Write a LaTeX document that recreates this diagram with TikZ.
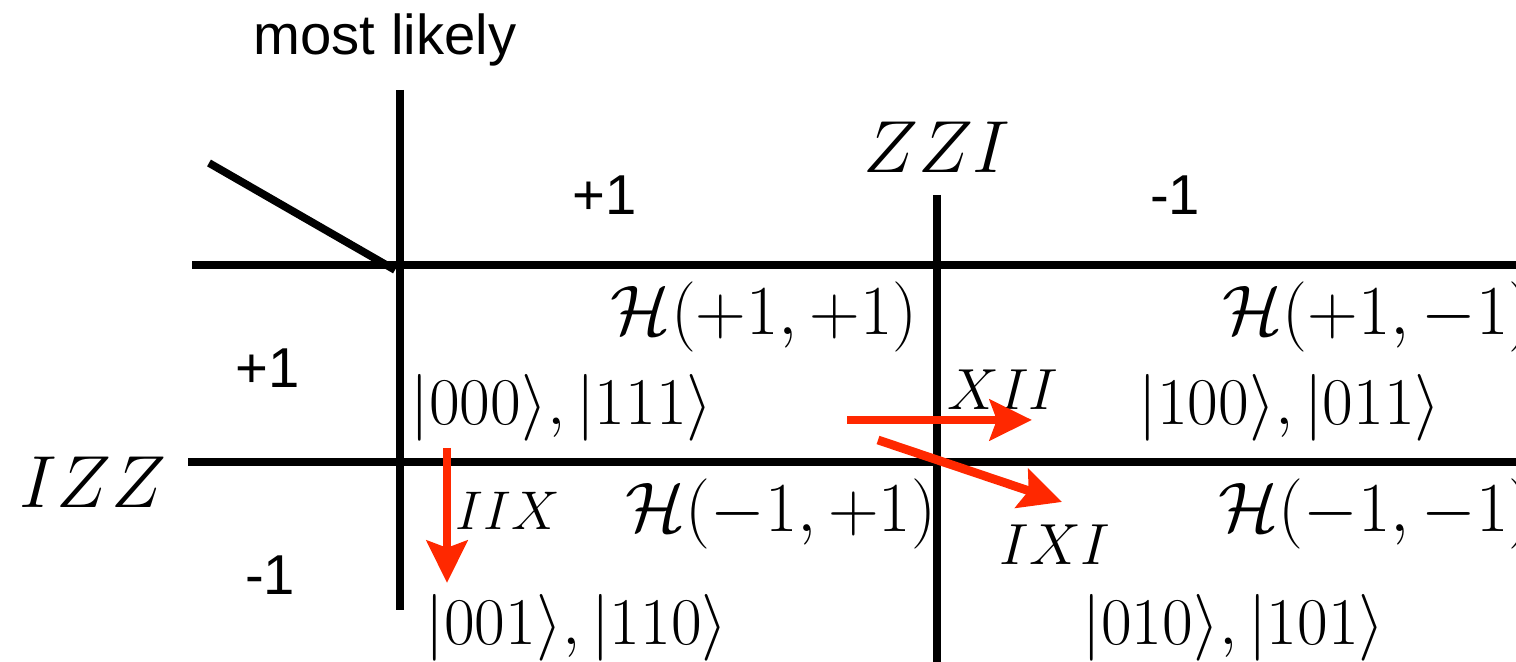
\RequirePackage{fix-cm}
\documentclass[tikz,border=0pt]{standalone}
\usepackage{amssymb}
\usepackage{xcolor}
\usepackage{fontspec}
\setsansfont{Liberation Sans}
\usepackage{tikz}
\usetikzlibrary{arrows.meta}
\definecolor{flipred}{RGB}{255,40,0}
\tikzset{
  gridline/.style={line width=2.2pt, draw=black, line cap=butt},
  fliparrow/.style={line width=2.5pt, draw=flipred, -{Stealth[length=12pt, width=11.5pt, inset=2pt]}},
  signlabel/.style={font=\sffamily\fontsize{16}{19}\selectfont, inner sep=0pt, anchor=base},
  oplabel/.style={font=\fontsize{21}{25}\selectfont, inner sep=0pt, anchor=base},
  fliplabel/.style={font=\fontsize{16.5}{20}\selectfont, inner sep=0pt, anchor=base},
  sectorlabel/.style={font=\fontsize{20}{24}\selectfont, inner sep=0pt},
  ketlabel/.style={font=\fontsize{19}{23}\selectfont, inner sep=0pt, anchor=base west},
}

\begin{document}
\begin{tikzpicture}
\useasboundingbox (0,0) rectangle (15.16,6.62);
\draw[gridline] (4.000,5.720) -- (4.000,0.520);
\draw[gridline] (9.370,4.670) -- (9.370,0.000);
\draw[gridline] (1.920,3.970) -- (15.160,3.970);
\draw[gridline] (1.880,2.000) -- (15.160,2.000);
\draw[gridline] (2.090,4.990) -- (3.950,3.920);
\node[signlabel] (likely) at (3.850,6.070) {most likely};
\node[signlabel] (zzip) at (6.050,4.470) {+1};
\node[signlabel] (zzim) at (11.750,4.470) {-1};
\node[signlabel] (izzp) at (2.680,2.740) {+1};
\node[signlabel] (izzm) at (2.700,0.670) {-1};
\node[oplabel] (zzi) at (9.370,4.890) {$ZZI$};
\node[oplabel] (izz) at (0.930,1.540) {$IZZ$};
\node[sectorlabel, anchor=base east] (hpp) at (9.180,3.270) {$\mathcal{H}(+1,+1)$};
\node[sectorlabel, anchor=base west] (hpm) at (12.220,3.270) {$\mathcal{H}(+1,-1)$};
\node[sectorlabel, anchor=base west] (hmp) at (6.250,1.300) {$\mathcal{H}(-1,+1)$};
\node[sectorlabel, anchor=base west] (hmm) at (12.180,1.300) {$\mathcal{H}(-1,-1)$};
\node[ketlabel] (kpp) at (4.100,2.370) {$|000\rangle,|111\rangle$};
\node[ketlabel] (kpm) at (11.380,2.370) {$|100\rangle,|011\rangle$};
\node[ketlabel] (kmp) at (4.250,0.170) {$|001\rangle,|110\rangle$};
\node[ketlabel] (kmm) at (10.820,0.170) {$|010\rangle,|101\rangle$};
\node[fliplabel] (xii) at (10.030,2.520) {$XII$};
\node[fliplabel, font=\fontsize{15.5}{19}\selectfont] (iix) at (5.080,1.320) {$IIX$};
\node[fliplabel] (ixi) at (10.550,0.970) {$IXI$};
\coordinate (xiis) at (8.470,2.420);
\coordinate (xiie) at (10.320,2.420);
\coordinate (ixis) at (8.780,2.220);
\coordinate (ixie) at (10.620,1.600);
\coordinate (iixs) at (4.470,2.140);
\coordinate (iixe) at (4.470,0.790);
\draw[fliparrow] (xiis) -- (xiie);
\draw[fliparrow] (ixis) -- (ixie);
\draw[fliparrow] (iixs) -- (iixe);
\end{tikzpicture}
\end{document}
